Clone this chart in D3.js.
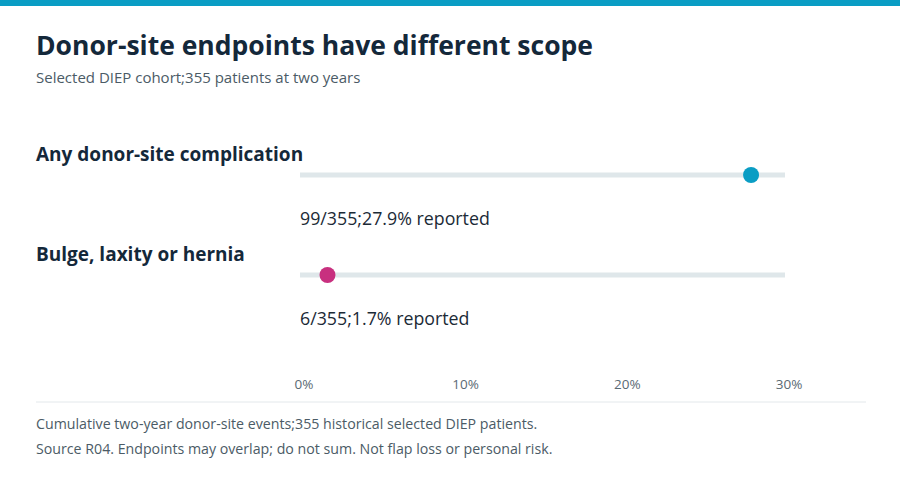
<!DOCTYPE html>
<html>
<head>
<meta charset="utf-8">
<script src="https://cdn.jsdelivr.net/npm/d3@7"></script>
<style>
  body { margin: 0; background: #fff; }
  svg { display: block; font-family: "Open Sans", "Noto Sans", sans-serif; }
</style>
</head>
<body>
<svg id="chart" width="900" height="480"></svg>
<script>
const endpoints = ["Any donor-site complication", "Bulge, laxity or hernia"];
const events = [99, 6];
const cohort = [355, 355];
const rates = [27.9, 1.7];
const dotColors = ["#0a9dc4", "#c8307f"];
const ticks = [0, 10, 20, 30];

const svg = d3.select("#chart");
const W = 900;

// top accent band
svg.append("rect").attr("x", 0).attr("y", 0).attr("width", W).attr("height", 6).attr("fill", "#0a9dc4");

svg.append("text")
    .attr("x", 36).attr("y", 55)
    .attr("font-size", 26.5).attr("font-weight", 700).attr("fill", "#14283a")
    .text("Donor-site endpoints have different scope");

svg.append("text")
    .attr("x", 36).attr("y", 83)
    .attr("font-size", 15).attr("fill", "#4b5b66")
    .text("Selected DIEP cohort;355 patients at two years");

const x = d3.scaleLinear().domain([0, 30]).range([300, 785]);
const y = d3.scalePoint().domain(endpoints).range([175, 275]);

const row = svg.append("g").selectAll("g")
    .data(endpoints)
    .enter().append("g");

row.append("text")
    .attr("x", 36).attr("y", d => y(d) - 14)
    .attr("font-size", 19).attr("font-weight", 700).attr("fill", "#14283a")
    .text(d => d);

row.append("line")
    .attr("x1", x(0)).attr("x2", x(30))
    .attr("y1", d => y(d)).attr("y2", d => y(d))
    .attr("stroke", "#dfe7ea").attr("stroke-width", 5);

row.append("circle")
    .attr("cx", (d, i) => x(rates[i]))
    .attr("cy", d => y(d))
    .attr("r", 8)
    .attr("fill", (d, i) => dotColors[i]);

row.append("text")
    .attr("x", x(0)).attr("y", d => y(d) + 50)
    .attr("font-size", 17.8).attr("fill", "#1b2a36")
    .text((d, i) => `${events[i]}/${cohort[i]};${rates[i]}% reported`);

// axis labels
svg.append("g").selectAll("text")
    .data(ticks)
    .enter().append("text")
    .attr("x", d => x(d) + 4)
    .attr("y", 389)
    .attr("text-anchor", "middle")
    .attr("font-size", 13.5).attr("fill", "#5a6a74")
    .text(d => d + "%");

svg.append("line")
    .attr("x1", 36).attr("x2", 866).attr("y1", 402).attr("y2", 402)
    .attr("stroke", "#e3e8eb").attr("stroke-width", 1);

const notes = [
  "Cumulative two-year donor-site events;355 historical selected DIEP patients.",
  "Source R04. Endpoints may overlap; do not sum. Not flap loss or personal risk."
];
svg.append("g").selectAll("text")
    .data(notes)
    .enter().append("text")
    .attr("x", 36).attr("y", (d, i) => 429 + i * 25)
    .attr("font-size", 14.2).attr("fill", "#4b5b66")
    .text(d => d);
</script>
</body>
</html>
